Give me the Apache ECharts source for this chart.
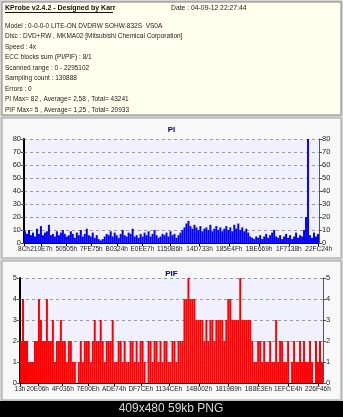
<!DOCTYPE html>
<html>
<head>
<meta charset="utf-8">
<script src="https://cdn.jsdelivr.net/npm/echarts@6/dist/echarts.min.js"></script>
<style>
  html, body { margin: 0; padding: 0; background: #d4d4d4; }
  #chart { width: 343px; height: 417px; }
</style>
</head>
<body>
<div id="chart"></div>
<script>
// header text from KProbe
const headerTitle = "KProbe v2.4.2 - Designed by Karr";
const headerDate = "Date : 04-09-12 22:27:44";
const headerLines = [
  "Model : 0-0-0-0 LITE-ON DVDRW SOHW-832S  VS0A",
  "Disc : DVD+RW , MKMA02 [Mitsubishi Chemical Corporation]",
  "Speed : 4x",
  "ECC blocks sum (PI/PIF) : 8/1",
  "Scanned range : 0 - 2295102",
  "Sampling count : 130888",
  "Errors : 0",
  "PI Max= 82 , Average= 2,58 , Total= 43241",
  "PIF Max= 5 , Average= 1,25 , Total= 20933"
];
const footerText = "409x480 59kb PNG";

const scanMax = 2295102;

// x tick labels (LBA, hex)
const piTickLabels = ["8Ch", "210E7h", "50505h", "7FE75h", "B0324h", "E0EE7h", "1150B6h", "14D733h", "185E4Fh", "1BE669h", "1F7138h", "22FC24h"];
const pifTickLabels = ["13h", "20E06h", "4F036h", "7E00Eh", "ADE74h", "DF7CEh", "1134CEh", "14B002h", "1819B9h", "1B8E3Eh", "1EFCE4h", "226F46h"];

// PI samples, left to right
const piValues = [
  9, 7, 10, 6, 8, 5, 11, 7, 13, 6,
  8, 9, 14, 6, 7, 5, 9, 6, 8, 10,
  7, 5, 6, 9, 7, 4, 8, 6, 10, 5,
  7, 11, 6, 5, 8, 4, 6, 3, 2, 3,
  5, 7, 6, 9, 5, 8, 6, 4, 7, 10,
  6, 5, 8, 7, 11, 5, 6, 4, 7, 5,
  8, 6, 9, 5, 7, 10, 6, 4, 5, 7,
  6, 8, 5, 9, 6, 7, 4, 6, 8, 10,
  12, 15, 17, 13, 11, 14, 12, 10, 13, 9,
  11, 12, 10, 14, 9, 11, 13, 10, 12, 9,
  11, 13, 10, 12, 9, 14, 11, 15, 10, 12,
  9, 11, 8, 5, 4, 3, 5, 4, 6, 3,
  5, 7, 4, 6, 8, 10, 5, 4, 6, 3,
  5, 7, 4, 6, 3, 5, 8, 4, 6, 5,
  10, 20, 82, 6, 4, 8, 5, 7
];

// PIF samples, left to right
const pifValues = [
  2, 4, 2, 2, 1, 1, 1, 2, 2, 4,
  3, 2, 2, 4, 2, 2, 3, 1, 2, 2,
  3, 2, 2, 1, 2, 2, 1, 1, 0, 1,
  2, 1, 2, 2, 2, 1, 2, 3, 2, 2,
  3, 2, 1, 2, 2, 2, 3, 1, 1, 2,
  2, 1, 2, 1, 1, 2, 2, 1, 2, 1,
  2, 2, 1, 0, 2, 2, 1, 2, 2, 1,
  2, 1, 2, 2, 1, 1, 2, 2, 1, 2,
  2, 2, 4, 4, 5, 4, 4, 4, 3, 3,
  3, 3, 2, 3, 2, 3, 3, 2, 3, 3,
  3, 3, 2, 3, 4, 4, 3, 3, 3, 3,
  5, 3, 3, 3, 3, 3, 2, 1, 1, 2,
  2, 1, 2, 1, 1, 2, 1, 1, 3, 1,
  2, 2, 1, 1, 2, 0, 1, 2, 1, 1,
  2, 1, 2, 1, 1, 2, 1, 0, 2, 1,
  2, 1
];

const hexToNum = s => parseInt(s.replace("h", ""), 16);
const piTicks = piTickLabels.map(hexToNum);
const pifTicks = pifTickLabels.map(hexToNum);

const font = "'Liberation Sans', Arial, sans-serif";
const txt = { fontFamily: font, fontSize: 6.5, color: "#222" };

function lbaAxis(gridIndex, ticks, labels) {
  return {
    type: "value", gridIndex: gridIndex, min: 0, max: scanMax, position: "bottom",
    axisLine: { show: true, onZero: false, lineStyle: { color: "#000", width: 1 } },
    axisTick: { show: true, customValues: ticks, length: 3, lineStyle: { color: "#000" } },
    axisLabel: {
      customValues: ticks, margin: 3, ...txt,
      showMinLabel: true, showMaxLabel: true, hideOverlap: false,
      formatter: v => labels[ticks.indexOf(v)]
    },
    splitLine: { show: false }
  };
}

function sampleAxis(gridIndex, values) {
  return { type: "category", gridIndex: gridIndex, data: values.map((_, i) => i), show: false };
}

function countAxis(gridIndex, max, interval, side) {
  const left = side === "left";
  return {
    type: "value", gridIndex: gridIndex, min: 0, max: max, interval: interval, position: side,
    axisLine: { show: true, lineStyle: { color: left ? "#000" : "#555", width: left ? 2 : 1 } },
    axisTick: { show: true, length: 3, lineStyle: { color: "#555" } },
    axisLabel: { margin: 3, ...txt, fontSize: 7.5 },
    splitLine: left ? { show: true, lineStyle: { type: [3, 3], color: "#9a9a9a", width: 1 } } : { show: false }
  };
}

const graphic = [
  { type: "rect", z: -10, shape: { x: 2, y: 2, width: 339, height: 113 }, style: { fill: "#ffffee", stroke: "#808080", lineWidth: 1 } },
  { type: "rect", z: -10, shape: { x: 2, y: 118, width: 339, height: 140 }, style: { fill: "#f8f8f8", stroke: "#a0a0a0", lineWidth: 1 } },
  { type: "rect", z: -10, shape: { x: 2, y: 261, width: 339, height: 139 }, style: { fill: "#f8f8f8", stroke: "#a0a0a0", lineWidth: 1 } },
  { type: "rect", z: -10, shape: { x: 0, y: 401, width: 343, height: 16 }, style: { fill: "#000" } },
  { type: "text", z: 10, x: 5, y: 8, style: { text: headerTitle, fontFamily: font, fontSize: 7, fontWeight: "bold", fill: "#111", verticalAlign: "middle" } },
  { type: "line", z: 10, shape: { x1: 5, y1: 12.5, x2: 113, y2: 12.5 }, style: { stroke: "#111", lineWidth: 1 } },
  { type: "text", z: 10, x: 171, y: 8, style: { text: headerDate, fontFamily: font, fontSize: 6.8, fill: "#222", verticalAlign: "middle" } },
  ...headerLines.map((t, i) => ({
    type: "text", z: 10, x: 5, y: 26 + i * 10.5,
    style: { text: t, fontFamily: font, fontSize: 6.5, fill: "#222", verticalAlign: "middle" }
  })),
  { type: "text", z: 10, x: 171, y: 409, style: { text: footerText, fontFamily: font, fontSize: 12, fill: "#d8d8d8", align: "center", verticalAlign: "middle" } }
];

const chart = echarts.init(document.getElementById("chart"), null, { renderer: "canvas" });
chart.setOption({
  animation: false,
  graphic: graphic,
  title: [
    { text: "PI", left: "center", top: 121, textStyle: { fontFamily: font, fontSize: 8, fontWeight: "bold", color: "#000080" } },
    { text: "PIF", left: "center", top: 265, textStyle: { fontFamily: font, fontSize: 8, fontWeight: "bold", color: "#000080" } }
  ],
  grid: [
    { left: 24, right: 24, top: 139, height: 104, show: true, backgroundColor: "#f0f0ff", borderWidth: 0 },
    { left: 20, right: 20, top: 278, height: 105, show: true, backgroundColor: "#f0f0ff", borderWidth: 0 }
  ],
  xAxis: [
    sampleAxis(0, piValues),
    lbaAxis(0, piTicks, piTickLabels),
    sampleAxis(1, pifValues),
    lbaAxis(1, pifTicks, pifTickLabels)
  ],
  yAxis: [
    countAxis(0, 80, 10, "left"),
    countAxis(0, 80, 10, "right"),
    countAxis(1, 5, 1, "left"),
    countAxis(1, 5, 1, "right")
  ],
  series: [
    {
      name: "PI", type: "bar", xAxisIndex: 0, yAxisIndex: 0,
      data: piValues, barCategoryGap: "0%", barWidth: "100%",
      itemStyle: { color: "#0000ff" }
    },
    {
      name: "PIF", type: "bar", xAxisIndex: 2, yAxisIndex: 2,
      data: pifValues, barCategoryGap: "0%", barWidth: "100%",
      itemStyle: { color: "#ff0000" }
    }
  ]
});
</script>
</body>
</html>
